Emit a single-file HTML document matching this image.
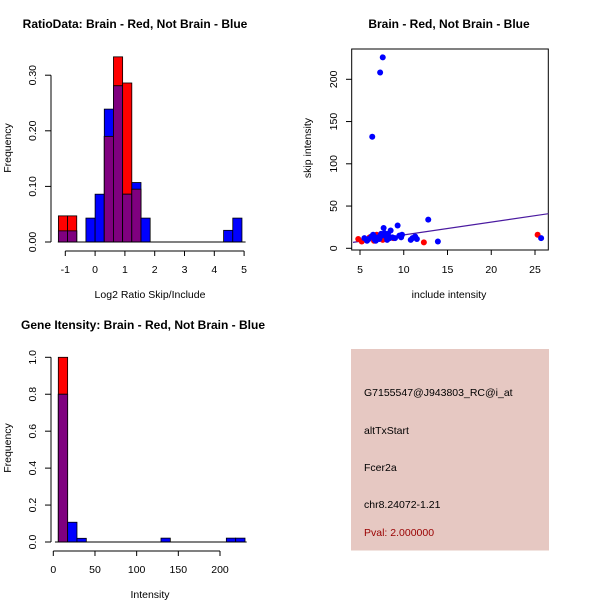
<!DOCTYPE html>
<html><head><meta charset="utf-8"><style>
body{margin:0;background:#fff;}
svg text{font-family:"Liberation Sans",sans-serif;}
</style></head><body>
<svg id="c" width="600" height="600" xmlns="http://www.w3.org/2000/svg"></svg>
<script>
// Panel 1 data: log2 ratio histogram
const ratioBinStart = -4; // bin index of first bin
const ratioBinWidth = 0.308;
const ratioRed  = [0.047,0.047,0,0,0,0.19,0.333,0.286,0.095,0,0,0,0,0,0,0,0,0,0,0];
const ratioBlue = [0.02,0.02,0,0.043,0.086,0.239,0.281,0.086,0.107,0.043,0,0,0,0,0,0,0,0,0.021,0.043];
const ratioXTicks = [-1,0,1,2,3,4,5];
const ratioYTicks = [0,0.1,0.2,0.3];
const ratioYLabels = ["0.00","0.10","0.20","0.30"];
// Panel 2 data: scatter
const blueX = [6.4,7.3,7.6,7.7,9.3,12.8,13.9,25.7,5.5,5.8,6.0,6.3,6.5,6.7,7.0,7.2,7.5,7.8,8.0,8.2,8.5,8.7,9.0,9.5,9.8,10.8,11.0,11.3,11.5,8.1,6.8,7.4,8.4,9.7];
const blueY = [132,208,226,24,27,34,8,12,12,9,11,14,16,10,13,11,15,18,14,17,21,13,12,15,16,10,12,14,11,10,9,17,12,13];
const redX = [4.8,5.2,6.1,6.6,6.9,12.3,25.3,7.6,8.8];
const redY = [11,8,13,9,16,7,16,10,12];
const lineIntercept = 0.6, lineSlope = 1.52;
const scatXTicks = [5,10,15,20,25];
const scatYTicks = [0,50,100,150,200];
// Panel 3 data: intensity histogram
const intBinStart = 6, intBinWidth = 11.2;
const intRed  = [1.0,0,0,0,0,0,0,0,0,0,0,0,0,0,0,0,0,0,0,0];
const intBlue = [0.8,0.107,0.02,0,0,0,0,0,0,0,0,0.021,0,0,0,0,0,0,0.021,0.021];
const intXTicks = [0,50,100,150,200];
const intYTicks = [0,0.2,0.4,0.6,0.8,1.0];
const intYLabels = ["0.0","0.2","0.4","0.6","0.8","1.0"];

const svg = document.getElementById('c');
const NS = 'http://www.w3.org/2000/svg';
function mk(tag, attrs, parent){const e=document.createElementNS(NS,tag);for(const k in attrs)e.setAttribute(k,attrs[k]);(parent||svg).appendChild(e);return e;}
function txt(s,x,y,attrs,parent){const t=mk('text',Object.assign({x:x,y:y,'font-size':10.5,'text-anchor':'middle'},attrs||{}),parent);t.textContent=s;return t;}

// ---------- Panel 1 ----------
(function(){
  const g=mk('g',{});
  
  
  const X=v=>65.3+(v+1)*29.8, Y=v=>242-v*556;
  const t=txt('RatioData: Brain - Red, Not Brain - Blue',135,28,{'font-weight':'bold','font-size':12},g);
  
  
  for(let i=0;i<ratioRed.length;i++){
    const x0=X((ratioBinStart+i)*ratioBinWidth), x1=X((ratioBinStart+i+1)*ratioBinWidth);
    const r=ratioRed[i], b=ratioBlue[i], m=Math.min(r,b);
    if(r>0){const e=mk('rect',{x:x0,y:Y(r),width:x1-x0,height:Y(0)-Y(r),fill:'#ff0000',stroke:'#000','stroke-width':0.8},g);
      
      }
    if(b>0){const e=mk('rect',{x:x0,y:Y(b),width:x1-x0,height:Y(0)-Y(b),fill:'#0000ff',stroke:'#000','stroke-width':0.8},g);
      
      }
    if(m>0){const e=mk('rect',{x:x0,y:Y(m),width:x1-x0,height:Y(0)-Y(m),fill:'#7f007f',stroke:'#000','stroke-width':0.8},g);
      
      }
  }
  mk('line',{x1:X(-1.25),x2:X(5.05),y1:Y(0),y2:Y(0),stroke:'#000'},g);
  mk('line',{x1:51,x2:51,y1:Y(0),y2:Y(0.3),stroke:'#000'},g);
  ratioYTicks.forEach((v,i)=>{mk('line',{x1:45,x2:51,y1:Y(v),y2:Y(v),stroke:'#000'},g);
    txt(ratioYLabels[i],36,Y(v),{transform:`rotate(-90 36 ${Y(v)})`},g);});
  mk('line',{x1:X(-1),x2:X(5),y1:251,y2:251,stroke:'#000'},g);
  ratioXTicks.forEach(v=>{mk('line',{x1:X(v),x2:X(v),y1:251,y2:256,stroke:'#000'},g);txt(String(v),X(v),273,{},g);});
  txt('Log2 Ratio Skip/Include',150,298,{},g);
  txt('Frequency',11,148,{transform:'rotate(-90 11 148)'},g);
})();

// ---------- Panel 2 ----------
(function(){
  const g=mk('g',{});
  
  
  const X=v=>360+(v-5)*8.75, Y=v=>248.3-v*0.845;
  const t=txt('Brain - Red, Not Brain - Blue',449,28,{'font-weight':'bold','font-size':12},g);
  
  
  mk('rect',{x:351.7,y:49,width:196.6,height:201,fill:'none',stroke:'#000'},g);
  const cp=mk('clipPath',{id:'cp2'},g);mk('rect',{x:351.7,y:49,width:196.6,height:201},cp);
  const ln=mk('line',{x1:X(4.2),y1:Y(lineIntercept+lineSlope*4.2),x2:X(26.6),y2:Y(lineIntercept+lineSlope*26.6),stroke:'#4a1aa0','stroke-width':1.2,'clip-path':'url(#cp2)'},g);
  
  
  for(let i=0;i<redX.length;i++){const c=mk('circle',{cx:X(redX[i]),cy:Y(redY[i]),r:3,fill:'#ff0000'},g);
    
    }
  for(let i=0;i<blueX.length;i++){const c=mk('circle',{cx:X(blueX[i]),cy:Y(blueY[i]),r:3,fill:'#0000ff'},g);
    
    }
  scatYTicks.forEach(v=>{mk('line',{x1:346,x2:351.7,y1:Y(v),y2:Y(v),stroke:'#000'},g);
    txt(String(v),337,Y(v),{transform:`rotate(-90 337 ${Y(v)})`},g);});
  scatXTicks.forEach(v=>{mk('line',{x1:X(v),x2:X(v),y1:250,y2:255,stroke:'#000'},g);txt(String(v),X(v),273,{},g);});
  txt('include intensity',449,298,{},g);
  txt('skip intensity',311,148,{transform:'rotate(-90 311 148)'},g);
})();

// ---------- Panel 3 ----------
(function(){
  const g=mk('g',{});
  
  
  const X=v=>53.3+v*0.8335, Y=v=>542-v*184.7;
  const t=txt('Gene Itensity: Brain - Red, Not Brain - Blue',143,329,{'font-weight':'bold','font-size':12},g);
  
  
  for(let i=0;i<intRed.length;i++){
    const x0=X(intBinStart+i*intBinWidth), x1=X(intBinStart+(i+1)*intBinWidth);
    const r=intRed[i], b=intBlue[i], m=Math.min(r,b);
    if(r>0){const e=mk('rect',{x:x0,y:Y(r),width:x1-x0,height:Y(0)-Y(r),fill:'#ff0000',stroke:'#000','stroke-width':0.8},g);
      
      }
    if(b>0){const e=mk('rect',{x:x0,y:Y(b),width:x1-x0,height:Y(0)-Y(b),fill:'#0000ff',stroke:'#000','stroke-width':0.8},g);
      
      }
    if(m>0){const e=mk('rect',{x:x0,y:Y(m),width:x1-x0,height:Y(0)-Y(m),fill:'#7f007f',stroke:'#000','stroke-width':0.8},g);
      
      }
  }
  mk('line',{x1:X(2),x2:X(232),y1:Y(0),y2:Y(0),stroke:'#000'},g);
  mk('line',{x1:51,x2:51,y1:Y(0),y2:Y(1),stroke:'#000'},g);
  intYTicks.forEach((v,i)=>{mk('line',{x1:45,x2:51,y1:Y(v),y2:Y(v),stroke:'#000'},g);
    txt(intYLabels[i],36,Y(v),{transform:`rotate(-90 36 ${Y(v)})`},g);});
  mk('line',{x1:X(0),x2:X(200),y1:551,y2:551,stroke:'#000'},g);
  intXTicks.forEach(v=>{mk('line',{x1:X(v),x2:X(v),y1:551,y2:556,stroke:'#000'},g);txt(String(v),X(v),573,{},g);});
  txt('Intensity',150,598,{},g);
  txt('Frequency',11,448,{transform:'rotate(-90 11 448)'},g);
})();

// ---------- Panel 4 ----------
(function(){
  const g=mk('g',{});
  
  
  mk('rect',{x:351,y:349,width:198,height:201.5,fill:'#e6c8c2'},g);
  const lines=[['G7155547@J943803_RC@i_at',396,'#000','probe-id'],['altTxStart',434,'#000','event-type'],['Fcer2a',471,'#000','gene-name'],['chr8.24072-1.21',508,'#000','location'],['Pval: 2.000000',536,'#990000','pvalue']];
  lines.forEach(l=>{const t=txt(l[0],364,l[1],{'text-anchor':'start',fill:l[2],'font-size':10.5},g);
    
    });
})();
</script>
</body></html>
